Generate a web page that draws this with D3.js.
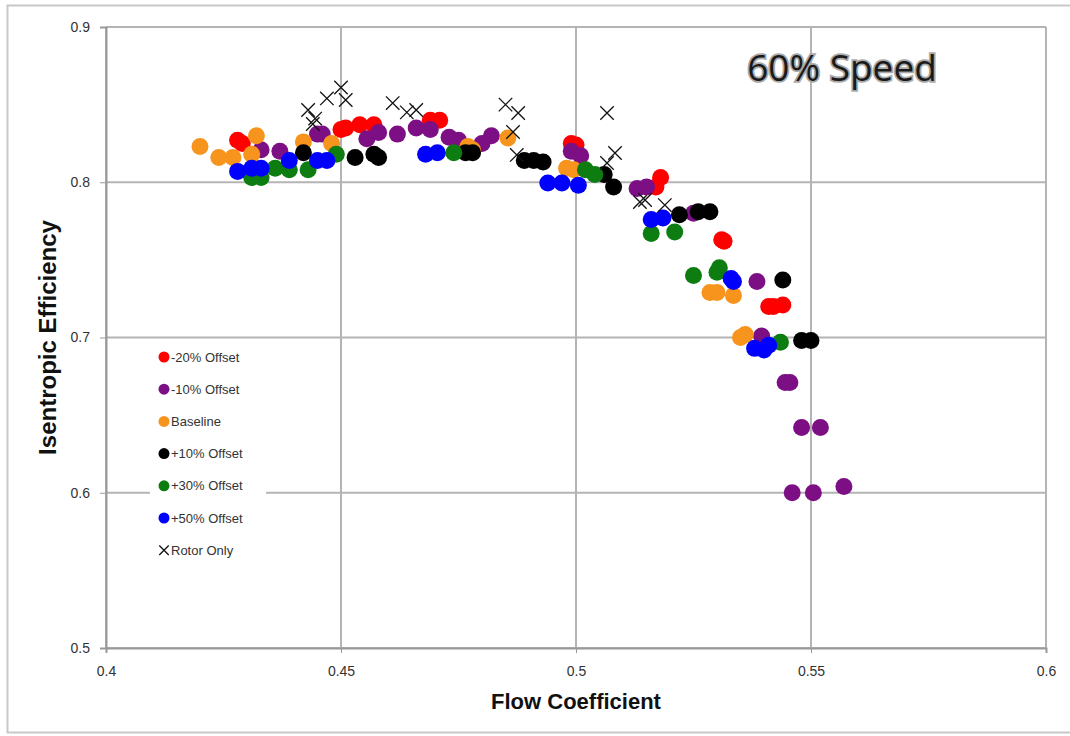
<!DOCTYPE html>
<html>
<head>
<meta charset="utf-8">
<script src="https://cdn.jsdelivr.net/npm/d3@7"></script>
<style>
  body { margin: 0; background: #fff; }
  svg { display: block; }
  .axis text { font-family: "Liberation Sans Narrow", "Liberation Sans", sans-serif; font-size: 14px; fill: #333; }
  .axis path, .axis line { stroke: #999; }
</style>
</head>
<body>
<svg id="chart" width="1070" height="736"></svg>
<script>
// flow coefficient / isentropic efficiency
var xTicks = [0.4, 0.45, 0.5, 0.55, 0.6]
var yTicks = [0.5, 0.6, 0.7, 0.8, 0.9]

var seriesNames = ["-20% Offset", "-10% Offset", "Baseline", "+10% Offset", "+30% Offset", "+50% Offset", "Rotor Only"]
var seriesColors = ["#ff0000", "#7d0f85", "#f7941d", "#000000", "#0d7d12", "#0000ff", "#000000"]

var offsetM20 = [
	[0.428, 0.827], [0.429, 0.825], [0.450, 0.834], [0.451, 0.835], [0.454, 0.837], [0.457, 0.837],
	[0.469, 0.840], [0.471, 0.840], [0.499, 0.825], [0.500, 0.824], [0.518, 0.803], [0.517, 0.797],
	[0.531, 0.763], [0.5315, 0.762], [0.541, 0.720], [0.542, 0.720], [0.544, 0.721]
]
var offsetM10 = [
	[0.433, 0.821], [0.437, 0.820], [0.445, 0.831], [0.446, 0.831], [0.4555, 0.828], [0.458, 0.832],
	[0.462, 0.831], [0.466, 0.835], [0.469, 0.834], [0.473, 0.829], [0.475, 0.827], [0.480, 0.825],
	[0.482, 0.830], [0.499, 0.820], [0.501, 0.817], [0.513, 0.796], [0.515, 0.797], [0.525, 0.780],
	[0.5385, 0.736], [0.5395, 0.701], [0.5445, 0.671], [0.5455, 0.671], [0.548, 0.642], [0.552, 0.642],
	[0.546, 0.600], [0.5505, 0.600], [0.557, 0.604]
]
var baseline = [
	[0.420, 0.823], [0.424, 0.816], [0.427, 0.816], [0.432, 0.830], [0.431, 0.818], [0.442, 0.826],
	[0.448, 0.825], [0.477, 0.823], [0.478, 0.821], [0.4855, 0.8285], [0.498, 0.809], [0.4995, 0.808],
	[0.5285, 0.729], [0.530, 0.729], [0.5335, 0.727], [0.535, 0.700], [0.536, 0.702]
]
var offsetP10 = [
	[0.442, 0.819], [0.453, 0.816], [0.457, 0.818], [0.458, 0.816], [0.4765, 0.819], [0.478, 0.819],
	[0.489, 0.814], [0.491, 0.814], [0.493, 0.813], [0.506, 0.805], [0.508, 0.797], [0.522, 0.779],
	[0.526, 0.781], [0.5285, 0.781], [0.544, 0.737], [0.548, 0.698], [0.550, 0.698]
]
var offsetP30 = [
	[0.431, 0.803], [0.433, 0.803], [0.436, 0.809], [0.439, 0.808], [0.443, 0.808], [0.449, 0.818],
	[0.474, 0.819], [0.502, 0.808], [0.504, 0.805], [0.516, 0.767], [0.521, 0.768], [0.525, 0.740],
	[0.530, 0.742], [0.5305, 0.745], [0.5435, 0.697]
]
var offsetP50 = [
	[0.428, 0.807], [0.431, 0.809], [0.433, 0.809], [0.439, 0.814], [0.445, 0.814], [0.447, 0.814],
	[0.468, 0.818], [0.4705, 0.819], [0.494, 0.7995], [0.497, 0.7995], [0.5005, 0.798], [0.516, 0.776],
	[0.5185, 0.777], [0.533, 0.738], [0.5335, 0.736], [0.538, 0.693], [0.540, 0.692], [0.541, 0.695]
]
var rotorOnly = [
	[0.443, 0.8465], [0.4445, 0.841], [0.444, 0.8375], [0.447, 0.854], [0.450, 0.861], [0.451, 0.853],
	[0.461, 0.851], [0.464, 0.845], [0.466, 0.8465], [0.485, 0.850], [0.4877, 0.8446], [0.4866, 0.8324],
	[0.4874, 0.8176], [0.5066, 0.8446], [0.5083, 0.8188], [0.5066, 0.8124], [0.5136, 0.7873],
	[0.5147, 0.7886], [0.5189, 0.7853]
]

var dotSeries = [offsetM20, offsetM10, baseline, offsetP10, offsetP30, offsetP50]

var svg = d3.select("#chart"),
	margin = {top: 27, right: 24, bottom: 88, left: 106},
	width = +svg.attr("width") - margin.left - margin.right,
	height = +svg.attr("height") - margin.top - margin.bottom

// outer chart frame
svg.append("rect")
	.attr("x", 7.5).attr("y", 5.5)
	.attr("width", 1070).attr("height", 727)
	.attr("fill", "none")
	.attr("stroke", "#c8c8c8")
	.attr("stroke-width", 2)

var g = svg.append("g").attr("transform", "translate(" + margin.left + "," + margin.top + ")")

var xScale = d3.scaleLinear().domain([0.4, 0.6]).range([0, width])
var yScale = d3.scaleLinear().domain([0.5, 0.9]).range([height, 0])

// grid
g.append("g").selectAll("line")
	.data(xTicks)
	.join("line")
		.attr("x1", function(d) { return xScale(d) }).attr("x2", function(d) { return xScale(d) })
		.attr("y1", 0).attr("y2", height)
		.attr("stroke", "#b4b4b4").attr("stroke-width", 2)

g.append("g").selectAll("line")
	.data(yTicks)
	.join("line")
		.attr("x1", 0).attr("x2", width)
		.attr("y1", function(d) { return yScale(d) }).attr("y2", function(d) { return yScale(d) })
		.attr("stroke", "#b4b4b4").attr("stroke-width", 2)

// axes
var xAxis = d3.axisBottom(xScale).tickValues(xTicks).tickFormat(d3.format("")).tickSize(5).tickPadding(13)
var yAxis = d3.axisLeft(yScale).tickValues(yTicks).tickFormat(d3.format("")).tickSize(6).tickPadding(10)

g.append("g")
	.attr("class", "axis x")
	.attr("transform", "translate(0," + height + ")")
	.call(xAxis)
	.call(function(s) { s.select(".domain").attr("stroke", "#999").attr("stroke-width", 2) })

g.append("g")
	.attr("class", "axis y")
	.call(yAxis)
	.call(function(s) { s.select(".domain").attr("stroke", "#999").attr("stroke-width", 2) })

// points, drawn in legend order so later series sit on top
dotSeries.forEach(function(data, i) {
	g.append("g").selectAll("circle")
		.data(data)
		.join("circle")
			.attr("cx", function(d) { return xScale(d[0]) })
			.attr("cy", function(d) { return yScale(d[1]) })
			.attr("r", 8.5)
			.attr("fill", seriesColors[i])
})

var cross = d3.symbol().type(d3.symbolX).size(120)
g.append("g").selectAll("path")
	.data(rotorOnly)
	.join("path")
		.attr("transform", function(d) { return "translate(" + xScale(d[0]) + "," + yScale(d[1]) + ")" })
		.attr("d", cross)
		.attr("fill", "none")
		.attr("stroke", "#111")
		.attr("stroke-width", 1.3)

// legend box
var legend = svg.append("g").attr("transform", "translate(150,343)")
legend.append("rect")
	.attr("width", 116).attr("height", 222)
	.attr("fill", "#fff")

seriesNames.forEach(function(name, i) {
	var row = legend.append("g").attr("transform", "translate(0," + (14 + i * 32.2) + ")")
	if (i < 6) {
		row.append("circle").attr("cx", 14).attr("cy", 0).attr("r", 5.5).attr("fill", seriesColors[i])
	} else {
		row.append("path").attr("transform", "translate(14,0)").attr("d", d3.symbol().type(d3.symbolX).size(60))
			.attr("stroke", "#111").attr("stroke-width", 1.3)
	}
	row.append("text")
		.attr("x", 21).attr("y", 4.5)
		.attr("font-family", "'Liberation Sans Narrow', 'Liberation Sans', sans-serif")
		.attr("font-size", 13)
		.attr("fill", "#333")
		.text(name)
})

// titles
svg.append("text")
	.attr("x", margin.left + width / 2).attr("y", 709)
	.attr("text-anchor", "middle")
	.attr("font-family", "'Liberation Sans Narrow', 'Liberation Sans', sans-serif")
	.attr("font-weight", "bold").attr("font-size", 22)
	.attr("fill", "#111")
	.text("Flow Coefficient")

svg.append("text")
	.attr("transform", "translate(56," + (margin.top + height / 2) + ") rotate(-90)")
	.attr("text-anchor", "middle")
	.attr("font-family", "'Liberation Sans Narrow', 'Liberation Sans', sans-serif")
	.attr("font-weight", "bold").attr("font-size", 24)
	.attr("fill", "#111")
	.text("Isentropic Efficiency")

svg.append("text")
	.attr("x", 842).attr("y", 81)
	.attr("text-anchor", "middle")
	.attr("font-family", "'Open Sans', sans-serif")
	.attr("font-size", 37)
	.attr("fill", "#1a1a1a")
	.attr("stroke", "#aaa").attr("stroke-width", 3.5)
	.attr("paint-order", "stroke")
	.text("60% Speed")
</script>
</body>
</html>
